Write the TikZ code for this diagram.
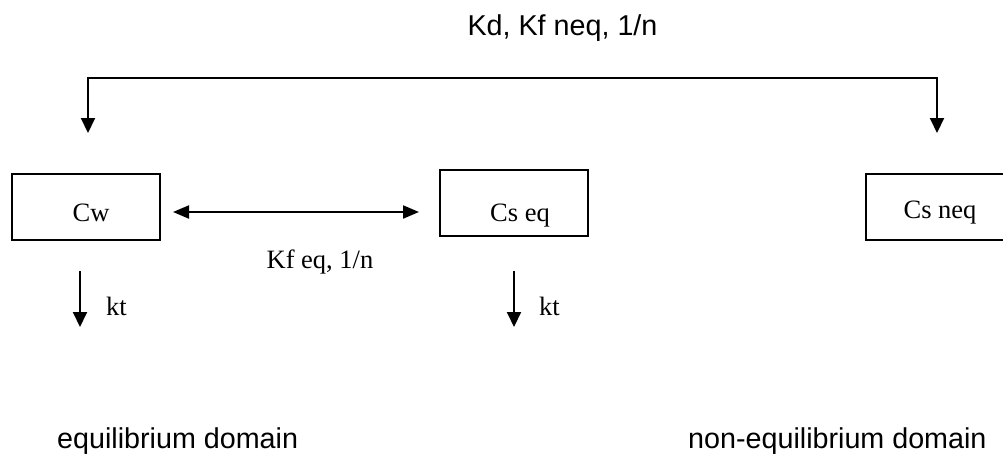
\documentclass[tikz,border=0pt]{standalone}
\usepackage{fontspec}
\setmainfont{Liberation Serif}
\newfontfamily\arialf{Liberation Sans}
\usetikzlibrary{arrows.meta}
\tikzset{
  box/.style={draw, line width=1.5pt, minimum width=148pt, minimum height=66pt, inner sep=0pt, font=\fontsize{26.5}{30}\selectfont, text depth=0pt},
  sanslabel/.style={font=\arialf\fontsize{28.7}{32}\selectfont, inner sep=0pt, anchor=base},
  seriflabel/.style={font=\fontsize{26.5}{30}\selectfont, inner sep=0pt, anchor=base},
  conn/.style={line width=2pt, -{Triangle[length=15pt,width=14pt]}},
  dconn/.style={line width=2pt, {Triangle[length=16pt,width=13pt]}-{Triangle[length=16pt,width=13pt]}}
}
\begin{document}
\begin{tikzpicture}[x=1pt,y=-1pt]
\useasboundingbox (0,0) rectangle (1003,463);
% boxes
\node[box, text height=28.5pt] (cw) at (86,207) {\hspace*{10pt}Cw};
\node[box, text height=37.5pt] (cseq) at (514,203) {\hspace*{12pt}Cs eq};
\node[box, text height=22pt] (csneq) at (940,207) {Cs neq};
% top bracket
\node[sanslabel] (toplbl) at (562.5,35) {Kd, Kf neq, 1/n};
\coordinate (aL) at (88,133);
\coordinate (aR) at (937,133);
\coordinate (topmid) at (512,78);
\draw[line width=2pt, {Triangle[length=15pt,width=14pt]}-{Triangle[length=15pt,width=14pt]}] (aL) |- (topmid) -| (aR);
% double arrow
\coordinate (dL) at (173,212);
\coordinate (dR) at (419,212);
\draw[dconn] (dL) -- (dR);
\node[seriflabel] (kfeq) at (320,268) {Kf eq, 1/n};
% kt arrows
\coordinate (k1s) at (80,271);
\coordinate (k1e) at (80,327);
\draw[conn] (k1s) -- (k1e);
\node[seriflabel, anchor=base west] (kt1) at (106,315) {kt};
\coordinate (k2s) at (514,271);
\coordinate (k2e) at (514,327);
\draw[conn] (k2s) -- (k2e);
\node[seriflabel, anchor=base west] (kt2) at (539,315) {kt};
% domain labels
\node[sanslabel, anchor=base west] (eqd) at (57,448) {equilibrium domain};
\node[sanslabel, anchor=base west] (neqd) at (688,448) {non-equilibrium domain};
\end{tikzpicture}
\end{document}
